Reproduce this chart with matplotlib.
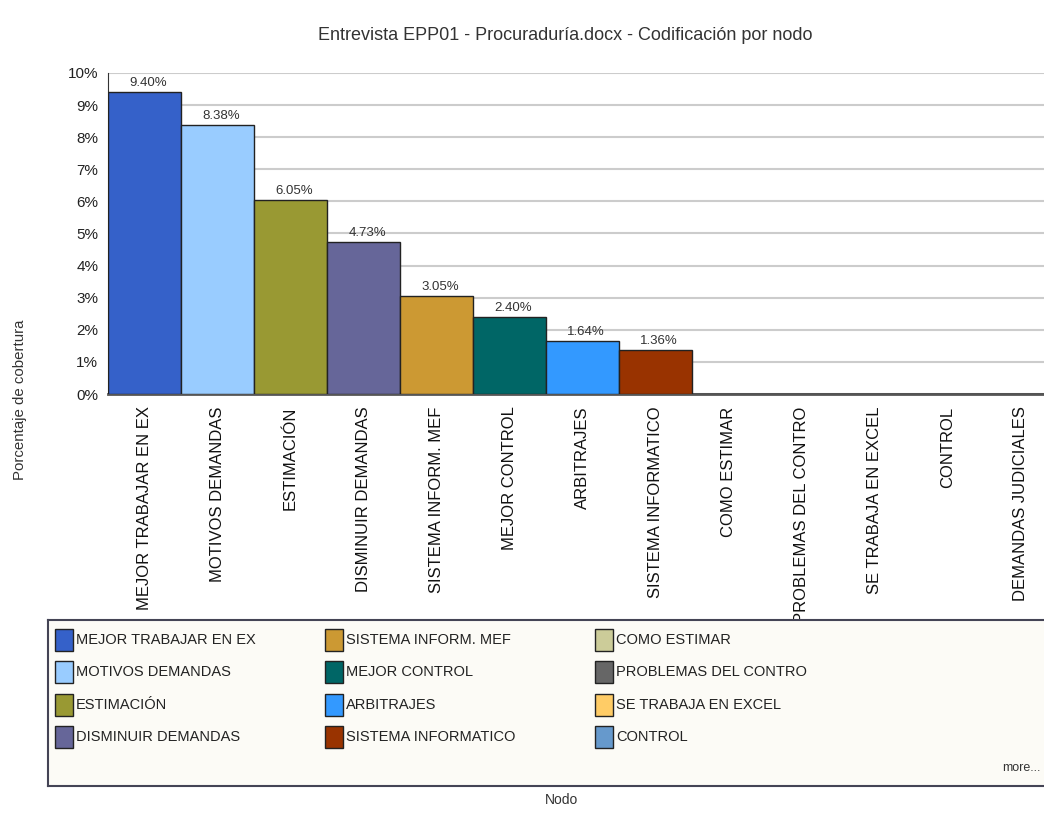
import numpy as np
import matplotlib
matplotlib.use("Agg")
import matplotlib.pyplot as plt
from matplotlib.patches import Rectangle

# ----------------------------------------------------
# Data
# ----------------------------------------------------

nodes = [
    "MEJOR TRABAJAR EN EX", "MOTIVOS DEMANDAS", "ESTIMACIÓN",
    "DISMINUIR DEMANDAS", "SISTEMA INFORM. MEF", "MEJOR CONTROL",
    "ARBITRAJES", "SISTEMA INFORMATICO", "COMO ESTIMAR",
    "PROBLEMAS DEL CONTRO", "SE TRABAJA EN EXCEL", "CONTROL",
    "DEMANDAS JUDICIALES",
]
coverage = [9.40, 8.38, 6.05, 4.73, 3.05, 2.40, 1.64, 1.36, 0, 0, 0, 0, 0]
colors = [
    "#3561c9", "#99ccff", "#999933", "#666699", "#cc9933", "#006666",
    "#3399ff", "#993300", "#cccc99", "#666666", "#ffcc66", "#6699cc",
    "#9999cc",
]
yticks = list(range(0, 11))

plt.rcParams["font.family"] = ["Liberation Sans", "DejaVu Sans"]

W, H = 1044, 821
fig = plt.figure(figsize=(W / 100, H / 100), dpi=100)

def px(x0, y0, x1, y1):
    # pixel box (top-left origin) -> figure fraction rect
    return [x0 / W, 1 - y1 / H, (x1 - x0) / W, (y1 - y0) / H]

# ----------------------------------------------------
# Main bar chart
# ----------------------------------------------------

ax = fig.add_axes(px(108, 73, 1057, 394))
x = np.arange(len(nodes))
bars = ax.bar(x, coverage, width=1.0, color=colors,
              edgecolor="#222222", linewidth=1.0, zorder=3)

for i, v in enumerate(coverage):
    if v > 0:
        ax.text(i + 0.05, v + 0.1, f"{v:.2f}%", ha="center", va="bottom",
                fontsize=9.5, color="#333333", zorder=4)

ax.set_xlim(-0.5, len(nodes) - 0.5)
ax.set_ylim(0, 10)
ax.set_yticks(yticks)
ax.set_yticklabels([f"{t}%" for t in yticks], fontsize=11, color="#222222")
ax.yaxis.grid(True, color="#cccccc", linewidth=1.5, zorder=0)
ax.set_axisbelow(True)
ax.tick_params(axis="y", length=0, pad=7)
ax.tick_params(axis="x", length=0, pad=9)
ax.set_xticks(x)
ax.set_xticklabels(nodes, rotation=90, va="top", ha="center",
                   fontsize=12, color="#111111")

for side in ["top", "right"]:
    ax.spines[side].set_visible(False)
ax.spines["left"].set_color("#333333")
ax.spines["bottom"].set_color("#555555")
ax.spines["bottom"].set_linewidth(2)

fig.text(565 / W, 1 - 36 / H,
         "Entrevista EPP01 - Procuraduría.docx - Codificación por nodo",
         ha="center", va="center", fontsize=13, color="#333333")

fig.text(20 / W, 1 - 400 / H, "Porcentaje de cobertura", rotation=90,
         ha="center", va="center", fontsize=10.8, color="#333333")

fig.text(562 / W, 1 - 800 / H, "Nodo", ha="center", va="center",
         fontsize=10, color="#333333")

# ----------------------------------------------------
# Legend box (drawn on top of the clipped tick labels)
# ----------------------------------------------------

lg = fig.add_axes(px(48, 620, 1060, 786), zorder=5)
lg.set_xlim(48, 1060)
lg.set_ylim(786, 620)
lg.set_xticks([])
lg.set_yticks([])
lg.set_facecolor("#fcfbf6")
for s in lg.spines.values():
    s.set_color("#444455")
    s.set_linewidth(1.5)

col_x = [55, 325, 595]
row_y = [640, 672, 705, 737]
for k in range(12):
    c, r = divmod(k, 4)
    x0 = col_x[c]
    y0 = row_y[r]
    lg.add_patch(Rectangle((x0, y0 - 11), 18, 22, facecolor=colors[k],
                           edgecolor="#222222", linewidth=1.0))
    lg.text(x0 + 21, y0, nodes[k], ha="left", va="center",
            fontsize=10.5, color="#222222")

lg.text(1002, 768, "more...", ha="left", va="center",
        fontsize=9, color="#333333")

fig.savefig("out.png", dpi=100)
